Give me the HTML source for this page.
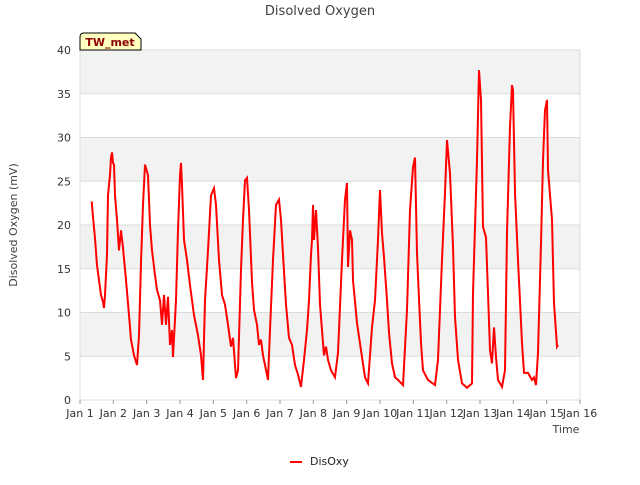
<!DOCTYPE html>
<html><head><meta charset="utf-8"><style>
body{margin:0;background:#fff;font-family:"Liberation Sans","DejaVu Sans",sans-serif}
svg text{font-family:"DejaVu Sans","Liberation Sans",sans-serif}
</style></head><body>
<svg width="640" height="480" xmlns="http://www.w3.org/2000/svg">
<g id="bands"></g>
<g id="axes"></g>
<path id="line" fill="none" stroke="#ff0000" stroke-width="2"/>
<text x="320" y="15" text-anchor="middle" font-size="13" fill="#404040">Disolved Oxygen</text>
<text transform="translate(17,225) rotate(-90)" text-anchor="middle" font-size="11" fill="#404040">Disolved Oxygen (mV)</text>
<text x="566" y="433" text-anchor="middle" font-size="11" fill="#404040">Time</text>
<g>
<path d="M80,50 L80,37 Q80,33 84,33 L135,33 L141,39 L141,50 Z" fill="#ffffc0" stroke="#000" stroke-width="1"/>
<text x="110" y="46" text-anchor="middle" font-size="11" font-weight="bold" fill="#8b0000">TW_met</text>
</g>
<g>
<line x1="290" y1="462" x2="302" y2="462" stroke="#ff0000" stroke-width="2"/>
<text x="310" y="465" font-size="11" fill="#222">DisOxy</text>
</g>
</svg>
<script>
const days=[1.35,1.39,1.45,1.51,1.57,1.63,1.69,1.72,1.75,1.81,1.84,1.90,1.93,1.96,1.99,2.02,2.05,2.11,2.17,2.23,2.29,2.38,2.47,2.53,2.62,2.71,2.77,2.83,2.89,2.95,3.01,3.04,3.10,3.16,3.25,3.31,3.40,3.46,3.52,3.58,3.64,3.70,3.76,3.79,3.88,3.94,4.00,4.03,4.06,4.12,4.21,4.30,4.42,4.54,4.63,4.69,4.75,4.84,4.93,5.02,5.08,5.17,5.26,5.35,5.44,5.53,5.59,5.68,5.74,5.83,5.89,5.95,6.01,6.07,6.16,6.22,6.31,6.37,6.43,6.49,6.55,6.64,6.70,6.79,6.88,6.97,7.03,7.09,7.18,7.27,7.36,7.45,7.54,7.63,7.72,7.81,7.87,7.93,7.96,7.99,8.02,8.08,8.14,8.20,8.26,8.32,8.38,8.44,8.53,8.65,8.74,8.86,8.95,9.01,9.04,9.10,9.16,9.19,9.31,9.46,9.55,9.64,9.76,9.85,9.94,10.00,10.06,10.12,10.21,10.27,10.36,10.45,10.54,10.69,10.81,10.90,10.99,11.05,11.11,11.14,11.23,11.29,11.44,11.65,11.74,11.86,11.95,12.01,12.10,12.19,12.25,12.34,12.46,12.61,12.76,12.79,12.91,12.97,13.03,13.09,13.18,13.24,13.30,13.36,13.42,13.48,13.54,13.66,13.75,13.81,13.90,13.96,13.99,14.05,14.14,14.26,14.32,14.44,14.56,14.62,14.68,14.74,14.83,14.89,14.95,15.01,15.04,15.16,15.22,15.31,15.34];
const disOxy=[22.7,20.9,18.5,15.4,13.7,12.0,11.2,10.5,12.0,16.6,23.4,25.7,27.7,28.3,27.1,26.9,23.4,20.6,17.1,19.4,17.4,13.7,9.7,6.9,5.1,4.0,7.4,15.7,22.3,26.9,26.1,25.7,20.0,17.1,14.3,12.6,11.4,8.6,12.0,8.6,11.8,6.3,8.0,4.9,11.4,19.4,25.7,27.1,24.6,18.3,16.0,13.1,9.7,7.4,5.1,2.3,11.4,17.1,23.4,24.2,22.3,16.0,12.0,10.9,8.6,6.1,7.1,2.5,3.4,14.9,20.6,25.1,25.4,21.7,13.5,10.3,8.6,6.3,6.9,5.1,4.0,2.3,8.0,16.0,22.3,22.9,20.6,16.6,10.9,7.1,6.3,4.0,2.9,1.5,4.6,8.0,11.4,16.6,18.3,22.3,18.3,21.7,17.4,10.9,8.0,5.1,6.1,4.6,3.4,2.6,5.4,16.0,22.9,24.8,15.2,19.4,18.3,13.7,8.8,4.9,2.6,1.9,8.3,11.4,18.3,24.0,19.1,16.3,11.4,7.7,4.2,2.6,2.3,1.7,10.3,21.7,26.6,27.7,16.8,14.1,6.5,3.4,2.3,1.7,4.6,16.0,23.7,29.7,25.9,17.5,9.5,4.6,1.9,1.4,1.9,12.2,27.4,37.7,34.3,19.8,18.6,12.2,5.7,4.2,8.3,4.9,2.3,1.5,3.4,19.1,31.2,36.0,35.4,23.7,16.0,6.5,3.1,3.1,2.3,2.6,1.7,5.4,17.9,27.4,33.1,34.3,26.3,20.6,11.1,6.1,6.3];
const yTicks=[0,5,10,15,20,25,30,35,40];
const xTickDays=[1,2,3,4,5,6,7,8,9,10,11,12,13,14,15,16];
const xTickLabels=["Jan 1","Jan 2","Jan 3","Jan 4","Jan 5","Jan 6","Jan 7","Jan 8","Jan 9","Jan 10","Jan 11","Jan 12","Jan 13","Jan 14","Jan 15","Jan 16"];
const L=80,R=580,T=50,B=400;
const xs=d=>L+(d-1)/15*(R-L);
const ys=v=>B-v/40*(B-T);
const NS="http://www.w3.org/2000/svg";
const bands=document.getElementById('bands'),axes=document.getElementById('axes');
for(let i=0;i<yTicks.length-1;i++){
 const r=document.createElementNS(NS,'rect');
 
 
 r.setAttribute('x',L);r.setAttribute('width',R-L);
 r.setAttribute('y',ys(yTicks[i+1]));r.setAttribute('height',ys(yTicks[i])-ys(yTicks[i+1]));
 r.setAttribute('fill',i%2===1?'#f2f2f2':'#ffffff');
 bands.appendChild(r);
}
yTicks.forEach(v=>{
 const g=document.createElementNS(NS,'line');
 
 
 g.setAttribute('x1',L);g.setAttribute('x2',R);g.setAttribute('y1',ys(v));g.setAttribute('y2',ys(v));
 g.setAttribute('stroke','#dcdcdc');
 axes.appendChild(g);
 const t=document.createElementNS(NS,'text');
 
 
 t.setAttribute('x',L-9);t.setAttribute('y',ys(v)+4);t.setAttribute('text-anchor','end');
 t.setAttribute('font-size','11');t.setAttribute('fill','#333');
 t.textContent=v;axes.appendChild(t);
});
const ax=document.createElementNS(NS,'path');


ax.setAttribute('d',`M${L},${T}V${B}H${R}V${T}`);ax.setAttribute('fill','none');ax.setAttribute('stroke','#dcdcdc');
axes.appendChild(ax);
xTickDays.forEach((d,i)=>{
 const tk=document.createElementNS(NS,'line');
 
 
 tk.setAttribute('x1',xs(d));tk.setAttribute('x2',xs(d));tk.setAttribute('y1',B);tk.setAttribute('y2',B+4);
 tk.setAttribute('stroke','#999');axes.appendChild(tk);
 const t=document.createElementNS(NS,'text');
 
 
 t.setAttribute('x',xs(d));t.setAttribute('y',B+17);t.setAttribute('text-anchor','middle');
 t.setAttribute('font-size','11');t.setAttribute('fill','#333');
 t.textContent=xTickLabels[i];axes.appendChild(t);
});
document.getElementById('line').setAttribute('d',days.map((d,i)=>(i?'L':'M')+xs(d).toFixed(1)+','+ys(disOxy[i]).toFixed(1)).join(''));
</script>
</body></html>
